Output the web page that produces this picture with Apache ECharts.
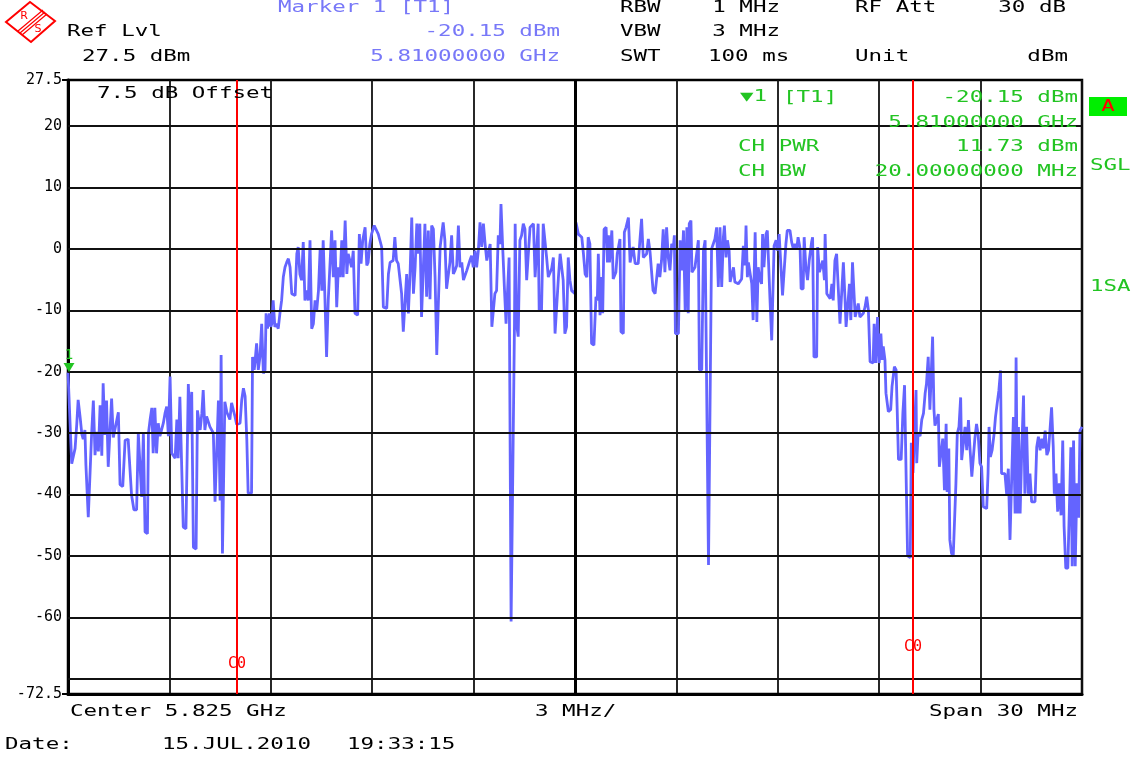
<!DOCTYPE html>
<html><head><meta charset="utf-8">
<script src="https://cdn.jsdelivr.net/npm/echarts@6/dist/echarts.min.js"></script>
<style>html,body{margin:0;padding:0;background:#fff}#c{width:1132px;height:760px}</style>
</head><body><div id="c"></div><script>
// ---- data: [frequency offset from 5.810 GHz (MHz), level (dBm)] ----
const segLeftSkirt = [[0,-20.15],[0.11,-35],[0.16,-35],[0.21,-32.5],[0.26,-28.5],[0.30,-24.6],[0.36,-27.5],[0.41,-30.2],[0.45,-31],[0.50,-29.5],[0.53,-35.2],[0.60,-43.7],[0.65,-44],[0.70,-30],[0.75,-24.7],[0.80,-33.6],[0.85,-29.8],[0.90,-33],[0.95,-25.5],[1.00,-33.7],[1.04,-21.9],[1.09,-30.3],[1.14,-24.7],[1.19,-35.5],[1.24,-35.5],[1.29,-24.4],[1.34,-30.7],[1.39,-30.7],[1.44,-28],[1.49,-26.6],[1.54,-38.4],[1.62,-38.7],[1.69,-31.2],[1.78,-31],[1.83,-30.7],[1.88,-40.1],[1.95,-42.5],[2.03,-42.5],[2.08,-30],[2.13,-30],[2.18,-40.4],[2.23,-30],[2.28,-46.1],[2.35,-46.4],[2.38,-30],[2.43,-27.8],[2.48,-25.9],[2.52,-33.3],[2.57,-25.9],[2.62,-33.3],[2.67,-28.4],[2.72,-30.5],[2.82,-28.4],[2.87,-26.8],[2.92,-25.7],[2.97,-30.5],[3.02,-20.8],[3.07,-33.3],[3.17,-34.1],[3.22,-27.8],[3.26,-34.1],[3.31,-24.1],[3.36,-23.8],[3.41,-45.3],[3.49,-45.6],[3.56,-22],[3.61,-29.8],[3.66,-23.3],[3.71,-48.6],[3.79,-48.9],[3.83,-26.3],[3.91,-29.5],[3.96,-26.8],[4.00,-23],[4.05,-29.5],[4.10,-27.3],[4.20,-29],[4.30,-30],[4.35,-41.2],[4.40,-41],[4.45,-24.7],[4.50,-41],[4.53,-17.3],[4.57,-49.6],[4.62,-49.6],[4.64,-24.9],[4.70,-26.6],[4.79,-27.8],[4.84,-25.1],[4.89,-25.1],[4.94,-27.3],[4.99,-28.6],[5.09,-28.4],[5.14,-24.6],[5.19,-22.7],[5.24,-24],[5.29,-31],[5.33,-39.8],[5.43,-39.8],[5.46,-17.6],[5.51,-19.7]];

const segLowerBand = [[5.53,-18.6],[5.58,-15.4],[5.63,-19.7],[5.68,-17.6],[5.73,-12.2],[5.78,-20.3],[5.83,-19.7],[5.86,-10.5],[5.90,-13],[5.96,-10.5],[6.00,-12.7],[6.03,-12.2],[6.07,-8.4],[6.12,-12.7],[6.17,-12.2],[6.22,-13],[6.27,-10.5],[6.32,-8.4],[6.37,-4.6],[6.42,-3],[6.47,-2.2],[6.52,-1.6],[6.57,-3],[6.62,-7.3],[6.72,-7.6],[6.77,-0.8],[6.81,0.3],[6.86,-4.1],[6.91,-5.1],[6.96,1.1],[7.01,-8.4],[7.06,-6.8],[7.11,-8.4],[7.16,1.4],[7.21,-13],[7.26,-12.2],[7.31,-8.4],[7.36,-10],[7.41,-6.8],[7.46,0],[7.51,-6.8],[7.55,1.4],[7.60,-7.8],[7.65,-17.6],[7.70,-8.4],[7.75,-8.4],[7.80,3],[7.85,-4.6],[7.90,1.4],[7.95,-9.5],[8.00,-3],[8.05,-4.6],[8.10,1.4],[8.14,-4.6],[8.20,4.6],[8.25,-4.1],[8.29,-0.8],[8.34,-1.9],[8.39,-3],[8.44,-0.3],[8.49,-10.5],[8.57,-10.8],[8.62,2.4],[8.67,-2.4],[8.72,1.4],[8.79,3.5],[8.84,-2.7],[8.88,-2.2],[8.93,0.8],[8.98,2.4],[9.06,3.8],[9.18,2.4],[9.28,0.3],[9.33,-9.5],[9.43,-9.7],[9.48,-4.1],[9.53,-2.2],[9.58,-1.9],[9.62,-1.9],[9.67,1.9],[9.72,-1.9],[9.77,-2.4],[9.82,-2.2],[9.87,-7.3],[9.92,-13.5],[9.97,-13.2],[10.02,-4.1],[10.07,-10.5],[10.12,-4.1],[10.17,5.1],[10.22,-7.3],[10.27,-3],[10.32,4.1],[10.36,-0.8],[10.41,4.1],[10.46,-11.1],[10.51,-11.1],[10.56,4.1],[10.61,-7.8],[10.66,3],[10.71,-8.2],[10.76,3.8],[10.81,3.2],[10.86,-4.6],[10.91,-17.3],[10.96,-17.3],[11.01,0.3],[11.06,0],[11.10,4.3],[11.15,1.4],[11.20,-6.5],[11.25,-6.5],[11.30,-2.2],[11.35,2.2],[11.40,-4.1],[11.45,-3.5],[11.50,-2.7],[11.55,3.8],[11.60,-3],[11.65,-2.2],[11.70,-5.1],[11.75,-4.9],[11.80,-3.5],[11.84,-3.2],[11.89,-1.9],[11.94,-1.1],[11.99,-3],[12.04,-0.3],[12.09,-3],[12.14,-0.3],[12.19,4.3],[12.24,0.3],[12.29,4.1],[12.34,0.8],[12.39,-1.9],[12.44,-2.2],[12.49,0.8],[12.54,-12.7],[12.58,-12.7],[12.63,-7.3],[12.68,-6.8],[12.73,2.2],[12.78,0.8],[12.81,7.3],[12.86,0.3],[12.91,-6.2],[12.96,-12.2],[13.01,-12.2],[13.05,-1.4],[13.11,-60.7],[13.14,-60.7],[13.21,-12],[13.23,4.1],[13.27,-12.2],[13.32,-14.3],[13.37,1.4],[13.42,2.2],[13.47,4.1],[13.52,3.2],[13.57,-5.1],[13.62,-5.1],[13.67,3.5],[13.72,3.5],[13.77,4.1],[13.82,-4.6],[13.87,-4.9],[13.91,4.1],[13.94,-10],[14.01,-10],[14.06,4.1],[14.11,4.1],[14.16,-1.4],[14.21,-4.6],[14.26,-4.9],[14.31,-3.2],[14.36,-1.4],[14.41,-13.8],[14.46,-13.8],[14.51,-4.6],[14.56,-0.8],[14.61,-0.5],[14.65,-5.1],[14.70,-13.8],[14.75,-12.7],[14.80,-1.4],[14.85,-5.1],[14.90,-6.8],[14.95,-6.8],[15.00,-7.3]];

const segUpperBand = [[15.03,4.3],[15.10,2.4],[15.15,2.7],[15.20,1.9],[15.25,-0.8],[15.30,-4.1],[15.35,-4.6],[15.39,1.9],[15.44,0.8],[15.49,-15.4],[15.56,-15.7],[15.62,-7.8],[15.66,-8.4],[15.69,-0.8],[15.74,-10.8],[15.79,-4.6],[15.82,-10.5],[15.86,3.2],[15.92,3.5],[15.96,-2.2],[15.99,2.2],[16.02,-2.2],[16.06,-2.4],[16.09,3],[16.13,-4.9],[16.18,-5.1],[16.21,-3.8],[16.25,-0.8],[16.29,-0.5],[16.33,1.6],[16.36,-13.5],[16.43,-13.8],[16.46,2.7],[16.51,3.5],[16.58,5.1],[16.63,-2.2],[16.68,-2.2],[16.72,0.3],[16.78,-2.4],[16.83,-2.4],[16.87,-2.4],[16.92,1.4],[16.97,4.9],[17.02,-1.4],[17.07,-1.4],[17.12,-0.8],[17.17,1.6],[17.22,-0.5],[17.27,-0.3],[17.31,-6.8],[17.37,-7.3],[17.41,-7.3],[17.46,-2.4],[17.51,-4.6],[17.56,-1.9],[17.61,3.2],[17.66,-3.8],[17.71,3.5],[17.76,-1.4],[17.81,-3.5],[17.86,0.8],[17.91,0.3],[17.94,2.2],[17.97,-13.8],[18.06,-13.8],[18.11,1.4],[18.16,-3.5],[18.21,3],[18.26,-10.3],[18.31,3.5],[18.35,-10.5],[18.38,4.1],[18.43,4.6],[18.46,-3.8],[18.50,-3.8],[18.55,-3],[18.60,-3.2],[18.65,1.4],[18.68,-19.7],[18.75,-19.7],[18.80,-0.3],[18.85,1.4],[18.88,1.4],[18.95,-51.5],[19.00,-51.5],[19.04,0],[19.09,0.8],[19.14,1.6],[19.19,3.5],[19.24,-6.2],[19.29,3.5],[19.34,-6.2],[19.39,1.9],[19.42,3.8],[19.47,-1.4],[19.51,1.4],[19.56,-0.3],[19.59,-5.4],[19.64,-5.7],[19.69,-3],[19.73,-5.4],[19.78,-5.7],[19.83,-5.7],[19.88,-5.4],[19.93,-4.9],[19.98,0.5],[20.03,-2.7],[20.06,3.8],[20.10,-4.6],[20.13,-2.2],[20.18,-2.2],[20.23,-5.7],[20.27,-11.6],[20.33,2.7],[20.38,-11.9],[20.42,-3],[20.47,-4.9],[20.52,-5.7],[20.55,2.4],[20.59,-3],[20.65,2.4],[20.69,3],[20.77,-8.4],[20.82,-14.9],[20.86,-14.9]];

const segRightSkirt = [[20.89,0.5],[20.95,1.4],[20.99,-0.3],[21.04,2.4],[21.09,2.7],[21.14,-7.6],[21.19,-7.6],[21.24,0.8],[21.28,3],[21.36,3],[21.41,1.1],[21.46,0],[21.51,0.8],[21.56,0],[21.60,1.9],[21.66,0],[21.69,-6.5],[21.75,-6.5],[21.78,1.9],[21.83,-3],[21.88,-5.1],[21.93,-1.9],[21.97,-1.9],[22.00,1.1],[22.03,1.9],[22.07,-17.6],[22.15,-17.6],[22.18,0.3],[22.23,-3.8],[22.28,-3.8],[22.33,-1.9],[22.38,-5.1],[22.40,2.4],[22.45,-7.3],[22.50,-7.6],[22.55,-8.1],[22.60,-5.7],[22.64,-8.4],[22.69,-1.9],[22.74,-0.8],[22.79,-0.8],[22.84,-12.2],[22.89,-12.2],[22.94,-2.2],[22.99,-8.4],[23.02,-12.7],[23.07,-12.7],[23.12,-5.7],[23.16,-11.6],[23.21,-2.2],[23.26,-2.2],[23.29,-11.1],[23.34,-11.4],[23.38,-8.9],[23.43,-11.1],[23.48,-10.8],[23.53,-10.5],[23.58,-9.5],[23.63,-7.8],[23.68,-10],[23.73,-18.4],[23.82,-18.6],[23.85,-12.2],[23.90,-18.6],[23.95,-11.1],[24.00,-18.6],[24.05,-13.8],[24.09,-18.1],[24.12,-15.9],[24.17,-18.1],[24.20,-23.5],[24.27,-26.5],[24.34,-26.2],[24.38,-22.4],[24.45,-19.2],[24.50,-19.7],[24.53,-25.7],[24.57,-34.3],[24.65,-34.3],[24.70,-26.8],[24.75,-22.2],[24.80,-38.1],[24.84,-50],[24.92,-50.3],[24.95,-31.6],[25.00,-36.5],[25.04,-36.2],[25.09,-23],[25.11,-34.9],[25.15,-30],[25.21,-30.5],[25.26,-27.8],[25.31,-26.8],[25.36,-23.5],[25.40,-21.9],[25.45,-17.6],[25.50,-26.2],[25.55,-26.5],[25.58,-14.3],[25.62,-26.2],[25.65,-28.8],[25.70,-28.8],[25.75,-26.9],[25.78,-35.5],[25.83,-35.8],[25.88,-30.9],[25.93,-39.3],[25.98,-28.5],[26.01,-39.6],[26.06,-32.5],[26.09,-47.4],[26.14,-49.6],[26.19,-50.1],[26.24,-50.1],[26.27,-38.2],[26.31,-30.1],[26.36,-29],[26.41,-24.2],[26.44,-34.4],[26.49,-34.4],[26.54,-29],[26.59,-32.8],[26.64,-27.9],[26.69,-32.8],[26.74,-37.1],[26.78,-37.1],[26.83,-30.9],[26.88,-28.5],[26.93,-30.4],[26.98,-34.9],[27.03,-35.5],[27.08,-42],[27.13,-42.3],[27.18,-42.3],[27.22,-36.6],[27.25,-29],[27.29,-33.9],[27.34,-32.8],[27.40,-30.1],[27.44,-27.4],[27.49,-25.2],[27.54,-23.1],[27.59,-19.8],[27.62,-36.6],[27.72,-36.6],[27.77,-39.9],[27.82,-35.8],[27.87,-47.4],[27.92,-47.4],[27.97,-27.4],[28.02,-43.1],[28.05,-17.7],[28.09,-43.1],[28.12,-29],[28.17,-43.1],[28.22,-32.3],[28.27,-23.9],[28.31,-39.9],[28.36,-29],[28.41,-39.9],[28.46,-36.6],[28.51,-41.2],[28.61,-41.2],[28.66,-32.3],[28.71,-30.6],[28.76,-32.8],[28.81,-30.9],[28.86,-32.5],[28.91,-29.6],[28.96,-33.6],[29.01,-32.8],[29.05,-33.1],[29.10,-25.8],[29.15,-32.3],[29.18,-39.9],[29.23,-36.6],[29.28,-42.8],[29.33,-38.2],[29.38,-43.4],[29.43,-31.2],[29.47,-45.2],[29.52,-52],[29.58,-52],[29.63,-41.5],[29.67,-32.3],[29.71,-51.7],[29.75,-31.2],[29.80,-51.7],[29.85,-38.2],[29.90,-43.8],[29.94,-29.6],[30,-29]];

const yLabelValues = [27.5, 20, 10, 0, -10, -20, -30, -40, -50, -60, -72.5];
const yGridValues = [20, 10, 0, -10, -20, -30, -40, -50, -60, -70];
const channelEdgesMHz = [5, 25];        // 5.815 GHz and 5.835 GHz
const channelLabelLift = [-42, -59];
const marker1 = [0, -20.15];

// ---- chart ----
const FONT = 'DejaVu Sans Mono';
const SX = 1.5;
const BLUE = '#7878f8', GREEN = '#22c422', BLACK = '#000';
const trace = [].concat(segLeftSkirt, segLowerBand, segUpperBand, segRightSkirt);

function txt(text, x, y, color, align, size) {
  return { type: 'text', x: x, y: y, scaleX: SX, silent: true, z: 10,
    style: { text: text, fill: color, font: (size || 15) + 'px "' + FONT + '"',
      align: align || 'left', verticalAlign: 'middle' } };
}

const chart = echarts.init(document.getElementById('c'), null, { renderer: 'canvas' });
chart.setOption({
  animation: false,
  backgroundColor: '#fff',
  grid: { left: 68, right: 50, top: 80, bottom: 66, show: true, borderColor: '#000', borderWidth: 2.5 },
  xAxis: {
    type: 'value', min: 0, max: 30, interval: 3,
    axisLabel: { show: false }, axisTick: { show: false },
    axisLine: { show: true, onZero: false, lineStyle: { color: '#000', width: 3 } },
    splitLine: { show: true, lineStyle: { color: '#111', width: 1.8 } }
  },
  yAxis: {
    type: 'value', min: -72.5, max: 27.5,
    splitLine: { show: false },
    axisLine: { show: true, onZero: false, lineStyle: { color: '#000', width: 3 } },
    axisTick: { show: true, customValues: [27.5, -72.5], length: 6, lineStyle: { color: '#000', width: 2 } },
    axisLabel: { customValues: yLabelValues, color: '#000', fontFamily: FONT, fontSize: 15, margin: 6,
      formatter: function (v) { return String(v); } }
  },
  series: [
    {
      type: 'line', data: [], silent: true, z: 1,
      markLine: {
        symbol: 'none', silent: true, label: { show: false },
        lineStyle: { color: '#111', width: 1.8, type: 'solid' },
        data: yGridValues.map(function (v) { return { yAxis: v }; })
          .concat([{ xAxis: 15, lineStyle: { color: '#000', width: 3, type: 'solid' } }])
      }
    },
    {
      type: 'line', data: trace, showSymbol: false, symbol: 'none', z: 3,
      lineStyle: { color: '#6464ff', width: 2.8 },
      markLine: {
        symbol: 'none', silent: true,
        lineStyle: { color: '#ff0000', width: 2, type: 'solid' },
        label: { show: true, position: 'start', formatter: 'C0', color: '#ff0000',
          fontFamily: FONT, fontSize: 15 },
        data: channelEdgesMHz.map(function (f, i) {
          return [ { coord: [f, -72.5], label: { offset: [0, channelLabelLift[i]] } }, { coord: [f, 27.5] } ];
        })
      },
      markPoint: {
        silent: true,
        data: [{ coord: marker1 }],
        symbol: 'triangle', symbolRotate: 180, symbolSize: [11, 9], symbolOffset: [1, -5],
        itemStyle: { color: GREEN },
        label: { show: true, formatter: '1', position: 'top', distance: 1, color: GREEN,
          fontFamily: FONT, fontSize: 14 }
      }
    }
  ],
  graphic: [
    // R&S logo
    { type: 'group', x: 0, y: 0, silent: true, children: [
      { type: 'polygon', shape: { points: [[30, 2], [55, 21], [31, 42], [6, 22]] },
        style: { fill: 'none', stroke: '#ff0000', lineWidth: 2 } },
      { type: 'line', shape: { x1: 18, y1: 31, x2: 43, y2: 10 }, style: { stroke: '#ff0000', lineWidth: 1.2 } },
      { type: 'line', shape: { x1: 20, y1: 33, x2: 45, y2: 12 }, style: { stroke: '#ff0000', lineWidth: 1.2 } },
      { type: 'line', shape: { x1: 22, y1: 35, x2: 47, y2: 14 }, style: { stroke: '#ff0000', lineWidth: 1.2 } },
      { type: 'text', x: 24, y: 16, style: { text: 'R', fill: '#ff0000', font: '11px "DejaVu Sans"', align: 'center', verticalAlign: 'middle' } },
      { type: 'text', x: 38, y: 29, style: { text: 'S', fill: '#ff0000', font: '11px "DejaVu Sans"', align: 'center', verticalAlign: 'middle' } }
    ] },
    // header
    txt('Ref Lvl', 67, 32, BLACK),
    txt('27.5 dBm', 82, 57, BLACK),
    txt('Marker 1 [T1]', 278, 8, BLUE),
    txt('-20.15 dBm', 560, 32, BLUE, 'right'),
    txt('5.81000000 GHz', 560, 57, BLUE, 'right'),
    txt('RBW', 620, 8, BLACK),
    txt('1 MHz', 780, 8, BLACK, 'right'),
    txt('RF Att', 855, 8, BLACK),
    txt('30 dB', 1066, 8, BLACK, 'right'),
    txt('VBW', 620, 32, BLACK),
    txt('3 MHz', 780, 32, BLACK, 'right'),
    txt('SWT', 620, 57, BLACK),
    txt('100 ms', 708, 57, BLACK),
    txt('Unit', 855, 57, BLACK),
    txt('dBm', 1068, 57, BLACK, 'right'),
    // in-plot annotations
    txt('7.5 dB Offset', 97, 94, BLACK),
    txt('\u25BC1', 740, 97, GREEN),
    txt('[T1]', 783, 98, GREEN),
    txt('-20.15 dBm', 1078, 98, GREEN, 'right'),
    txt('5.81000000 GHz', 1078, 123, GREEN, 'right'),
    txt('CH PWR', 738, 147, GREEN),
    txt('11.73 dBm', 1078, 147, GREEN, 'right'),
    txt('CH BW', 738, 172, GREEN),
    txt('20.00000000 MHz', 1078, 172, GREEN, 'right'),
    // right side panel
    { type: 'rect', shape: { x: 1089, y: 97, width: 38, height: 19 }, style: { fill: '#00ee00' }, silent: true },
    txt('A', 1108, 107, '#ff0000', 'center'),
    txt('SGL', 1090, 166, GREEN),
    txt('1SA', 1090, 287, GREEN),
    // footer
    txt('Center 5.825 GHz', 70, 712, BLACK),
    txt('3 MHz/', 535, 712, BLACK),
    txt('Span 30 MHz', 1078, 712, BLACK, 'right'),
    txt('Date:', 5, 745, BLACK),
    txt('15.JUL.2010', 162, 745, BLACK),
    txt('19:33:15', 347, 745, BLACK)
  ]
});
</script></body></html>
